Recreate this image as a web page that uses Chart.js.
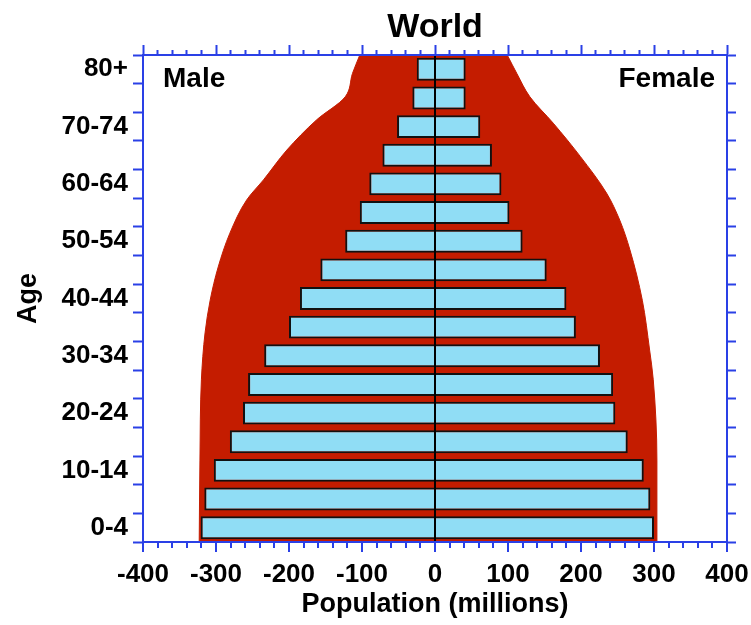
<!DOCTYPE html>
<html><head><meta charset="utf-8">
<script src="https://cdn.jsdelivr.net/npm/chart.js@4/dist/chart.umd.min.js"></script>
<style>html,body{margin:0;padding:0;background:#fff;}canvas{display:block;}</style>
</head><body>
<canvas id="c" width="751" height="625"></canvas>
<script>
// ---- data ----
const ageGroups = ['0-4','5-9','10-14','15-19','20-24','25-29','30-34','35-39','40-44','45-49','50-54','55-59','60-64','65-69','70-74','75-79','80+'];
const malePop   = [321,316,303,281,263,256,234,200,185,157,123,103,90,72,52,31,25];
const femalePop = [300,295,286,264,247,244,226,193,180,153,120,102,91,78,62,42,42];
// projected envelope (red area), age in years vs population (millions)
const envLeftAge  = [0,14.3,28.3,36.5,42.2,48,53.9,59.7,63.2,68.4,73.7,77.7,81.8,85];
const envLeftPop  = [323,322,320,315,308,297,281,258,235,203,162,123,113,103];
const envRightAge = [0,14.3,28.3,33.5,42.2,51,56.2,60.9,67.3,73.1,77.7,81.8,85];
const envRightPop = [304,304,299,294,284,267,253,235,199,162,130,112,99];
const xRange = [-400, 400];
const xMajorStep = 100, xMinorStep = 20;
const ageMax = 85;
const sideNames = ['Male', 'Female'];

// ---- styles ----
const FAMILY = '"Liberation Sans", Arial, Helvetica, sans-serif';
const BLUE = '#2a40e6', RED = '#c41c00', BAR = '#90ddf5';
Chart.defaults.font.family = FAMILY;
Chart.defaults.color = '#000';
const bf = (s, lh) => ({family: FAMILY, size: s, weight: 'bold', lineHeight: lh || 1});
const isMajor = v => Math.abs(Math.round(v)) % xMajorStep === 0;

const sideLabels = {
  id: 'sideLabels',
  afterDatasetsDraw(chart) {
    const {ctx, chartArea: a} = chart;
    ctx.save();
    ctx.font = 'bold 28px ' + FAMILY;
    ctx.fillStyle = '#000';
    ctx.textBaseline = 'alphabetic';
    ctx.textAlign = 'left';
    ctx.fillText(sideNames[0], a.left + 20, a.top + 32);
    ctx.textAlign = 'right';
    ctx.fillText(sideNames[1], a.right - 12, a.top + 32);
    ctx.restore();
  }
};

const barCommon = {
  backgroundColor: BAR, borderColor: '#111', borderWidth: 2, borderSkipped: 'start',
  grouped: false, barPercentage: 0.8, categoryPercentage: 1,
  xAxisID: 'x', yAxisID: 'y', order: 0
};
const envCommon = {
  type: 'line', indexAxis: 'y', xAxisID: 'x', yAxisID: 'yA', fill: 'origin',
  backgroundColor: RED, borderColor: RED, borderWidth: 1, pointRadius: 0,
  cubicInterpolationMode: 'monotone', order: 1
};

new Chart(document.getElementById('c'), {
  type: 'bar',
  data: {
    labels: ageGroups,
    datasets: [
      Object.assign({label: 'Male', data: malePop.map(v => -v)}, barCommon),
      Object.assign({label: 'Female', data: femalePop}, barCommon),
      Object.assign({label: 'envL', data: envLeftAge.map((a, i) => ({x: -envLeftPop[i], y: a}))}, envCommon),
      Object.assign({label: 'envR', data: envRightAge.map((a, i) => ({x: envRightPop[i], y: a}))}, envCommon)
    ]
  },
  options: {
    indexAxis: 'y', responsive: false, animation: false,
    layout: {padding: {left: 0, right: 15, top: 0, bottom: 0}},
    plugins: {
      legend: {display: false}, tooltip: {enabled: false},
      title: {display: true, fullSize: false, text: 'World', color: '#000', font: bf(34, 1), padding: {top: 11, bottom: 0}}
    },
    scales: {
      x: {
        type: 'linear', position: 'bottom', min: xRange[0], max: xRange[1],
        ticks: {stepSize: xMinorStep, autoSkip: false, maxRotation: 0, minRotation: 0, padding: 0, z: 2,
                font: bf(26, 46 / 26), color: '#000', callback: v => isMajor(v) ? String(v) : ''},
        grid: {z: 1, drawOnChartArea: true, lineWidth: 2,
               color: c => (c.tick && c.tick.value === 0) ? '#000' : 'rgba(0,0,0,0)',
               tickLength: 10, tickColor: BLUE, tickWidth: 2,
               tickBorderDash: c => (c.tick && isMajor(c.tick.value)) ? [] : [5, 40]},
        border: {color: BLUE, width: 2, z: 2},
        title: {display: true, text: 'Population (millions)', color: '#000', font: bf(27, 1.2), padding: {top: 0, bottom: 4}},
        afterFit: s => { s.height = 83; }
      },
      x2: {
        type: 'linear', position: 'top', min: xRange[0], max: xRange[1],
        ticks: {display: false, stepSize: xMinorStep},
        grid: {z: 1, drawOnChartArea: false, tickLength: 10, tickColor: BLUE, tickWidth: 2,
               tickBorderDash: c => (c.tick && isMajor(c.tick.value)) ? [] : [0, 5, 5, 40]},
        border: {color: BLUE, width: 2, z: 2},
        afterFit: s => { s.height = 10; }
      },
      y: {
        type: 'category', position: 'left', reverse: true, offset: true,
        ticks: {autoSkip: false, padding: 5, font: bf(26, 1), color: '#000',
                callback: function (v, i) { return i % 2 === 0 ? this.getLabelForValue(v) : ''; }},
        grid: {z: 1, drawOnChartArea: false, offset: true, tickLength: 10, tickColor: BLUE, tickWidth: 2},
        border: {color: BLUE, width: 2, z: 2},
        title: {display: true, text: 'Age', color: '#000', font: bf(27, 1.2), padding: {top: 12, bottom: 0}},
        afterFit: s => { s.width = 143; }
      },
      y2: {
        type: 'category', position: 'right', reverse: true, offset: true,
        ticks: {display: false},
        grid: {z: 1, drawOnChartArea: false, offset: true, tickLength: 9, tickColor: BLUE, tickWidth: 2},
        border: {color: BLUE, width: 2, z: 2},
        afterFit: s => { s.width = 9; }
      },
      yA: {type: 'linear', display: false, min: 0, max: ageMax, offset: false, grid: {offset: false}}
    }
  },
  plugins: [sideLabels]
});
</script>
</body></html>
